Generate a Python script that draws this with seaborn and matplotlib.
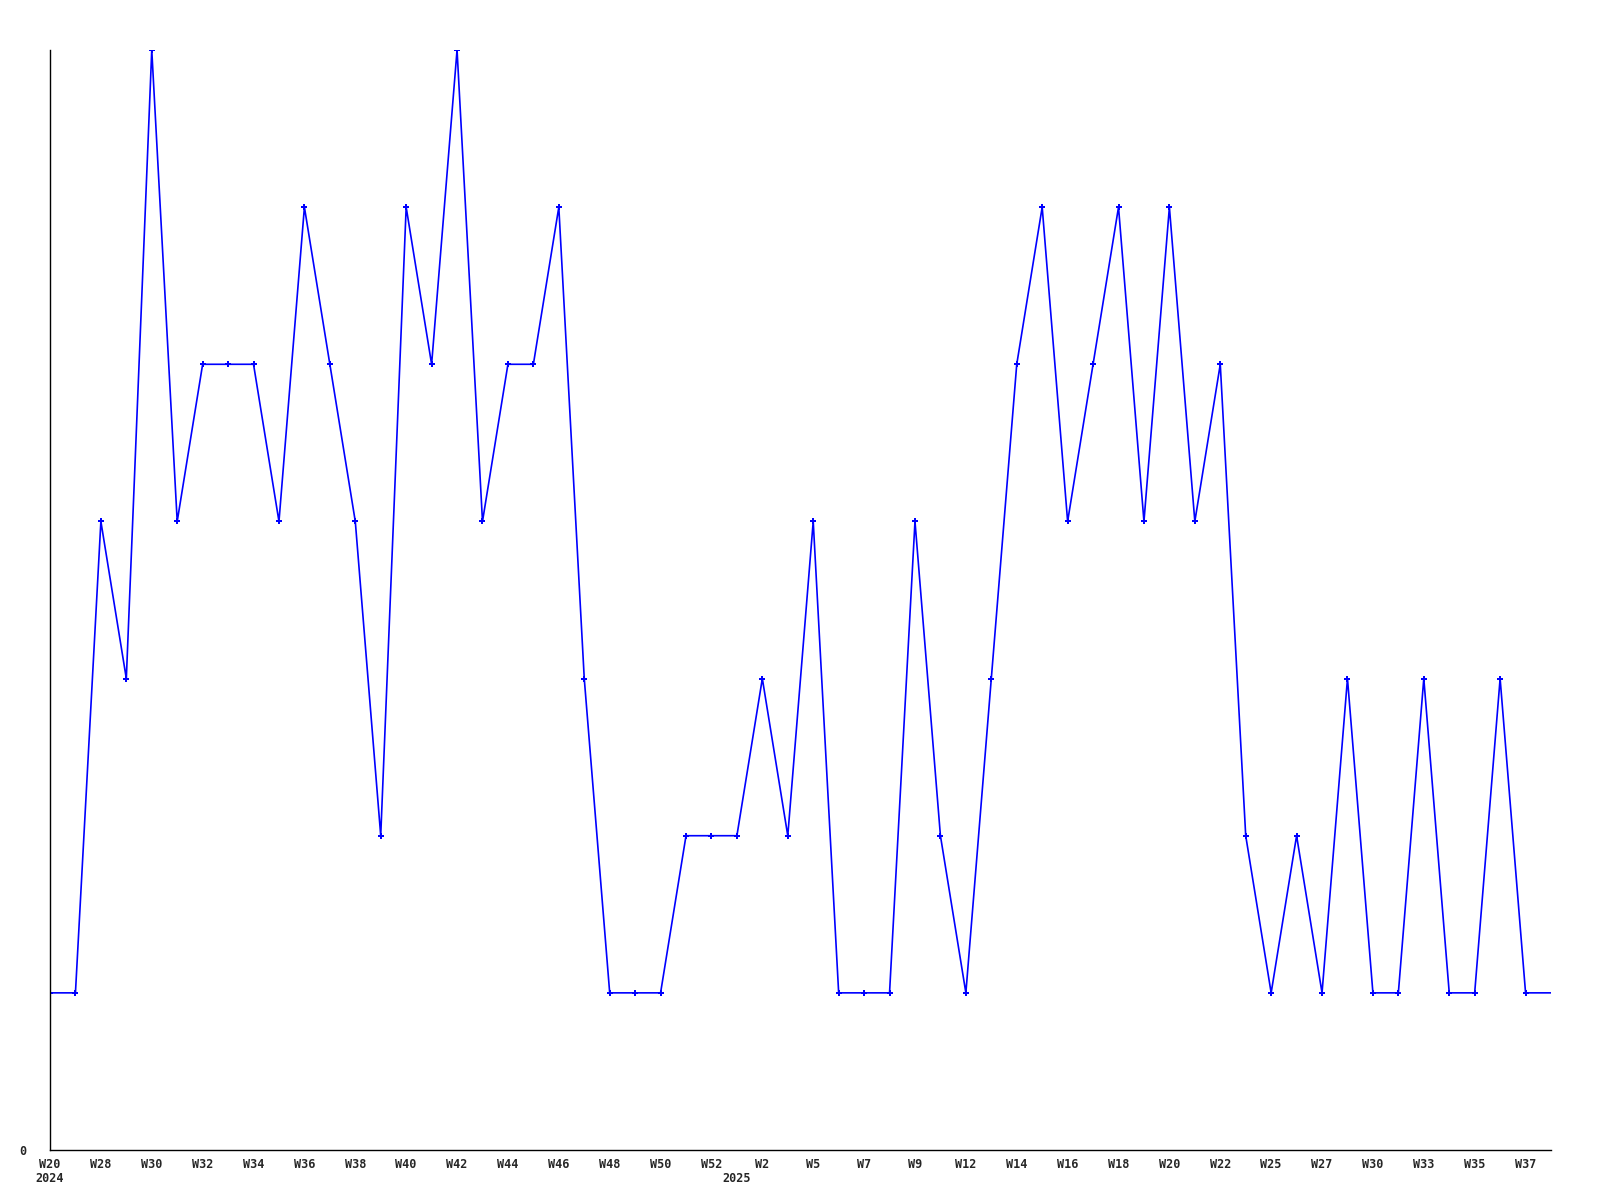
import matplotlib
matplotlib.use("Agg")
import matplotlib.pyplot as plt
import matplotlib.transforms as mtransforms
import seaborn as sns
import pandas as pd
import numpy as np

# weekly counts, W20 2024 .. W38 2025 (weeks without data are skipped)
weeks = ["W20", "W21", "W28", "W29", "W30", "W31", "W32", "W33", "W34", "W35",
         "W36", "W37", "W38", "W39", "W40", "W41", "W42", "W43", "W44", "W45",
         "W46", "W47", "W48", "W49", "W50", "W51", "W52", "W1", "W2", "W4",
         "W5", "W6", "W7", "W8", "W9", "W11", "W12", "W13", "W14", "W15",
         "W16", "W17", "W18", "W19", "W20", "W21", "W22", "W24", "W25", "W26",
         "W27", "W29", "W30", "W32", "W33", "W34", "W35", "W36", "W37", "W38"]
counts = [1, 1, 4, 3, 7, 4, 5, 5, 5, 4,
          6, 5, 4, 2, 6, 5, 7, 4, 5, 5,
          6, 3, 1, 1, 1, 2, 2, 2, 3, 2,
          4, 1, 1, 1, 4, 2, 1, 3, 5, 6,
          4, 5, 6, 4, 6, 4, 5, 2, 1, 2,
          1, 3, 1, 1, 3, 1, 1, 3, 1, 1]
years = ["2024", "2025"]
year_start = [0, 27]

df = pd.DataFrame({"idx": np.arange(len(weeks)), "count": counts})

sns.set_style("white")
plt.rcParams["font.family"] = ["DejaVu Sans Mono"]

fig = plt.figure(figsize=(16, 12), dpi=100)
ax = fig.add_axes([50 / 1600, 50 / 1200, 1501 / 1600, 1100 / 1200])

sns.lineplot(data=df, x="idx", y="count", color="#0000ff", linewidth=1.2, ax=ax)
# last (current) week has no marker
sns.scatterplot(data=df.iloc[:-1], x="idx", y="count", color="#0000ff", marker="P",
                s=16, linewidth=0, ax=ax)

ax.set_xlim(0, len(weeks) - 1)
ax.set_ylim(0, 7)
ax.set_xlabel("")
ax.set_ylabel("")

ax.set_xticks(df["idx"][::2])
ax.set_xticklabels(weeks[::2], fontsize=8.5, fontweight="bold")
ax.set_yticks([0])
ax.set_yticklabels(["0"], fontsize=8.5, fontweight="bold")
ax.tick_params(axis="both", length=0)
ax.tick_params(axis="x", pad=6)
ax.tick_params(axis="y", pad=17)

trans = mtransforms.blended_transform_factory(ax.transData, ax.transAxes)
for y, pos in zip(years, year_start):
    ax.text(pos, -0.02, y, transform=trans, ha="center", va="top",
            fontsize=8.5, fontweight="bold", clip_on=False)

for side in ["top", "right"]:
    ax.spines[side].set_visible(False)
for side in ["left", "bottom"]:
    ax.spines[side].set_color("black")
    ax.spines[side].set_linewidth(1)

fig.savefig("out.png", dpi=100)
